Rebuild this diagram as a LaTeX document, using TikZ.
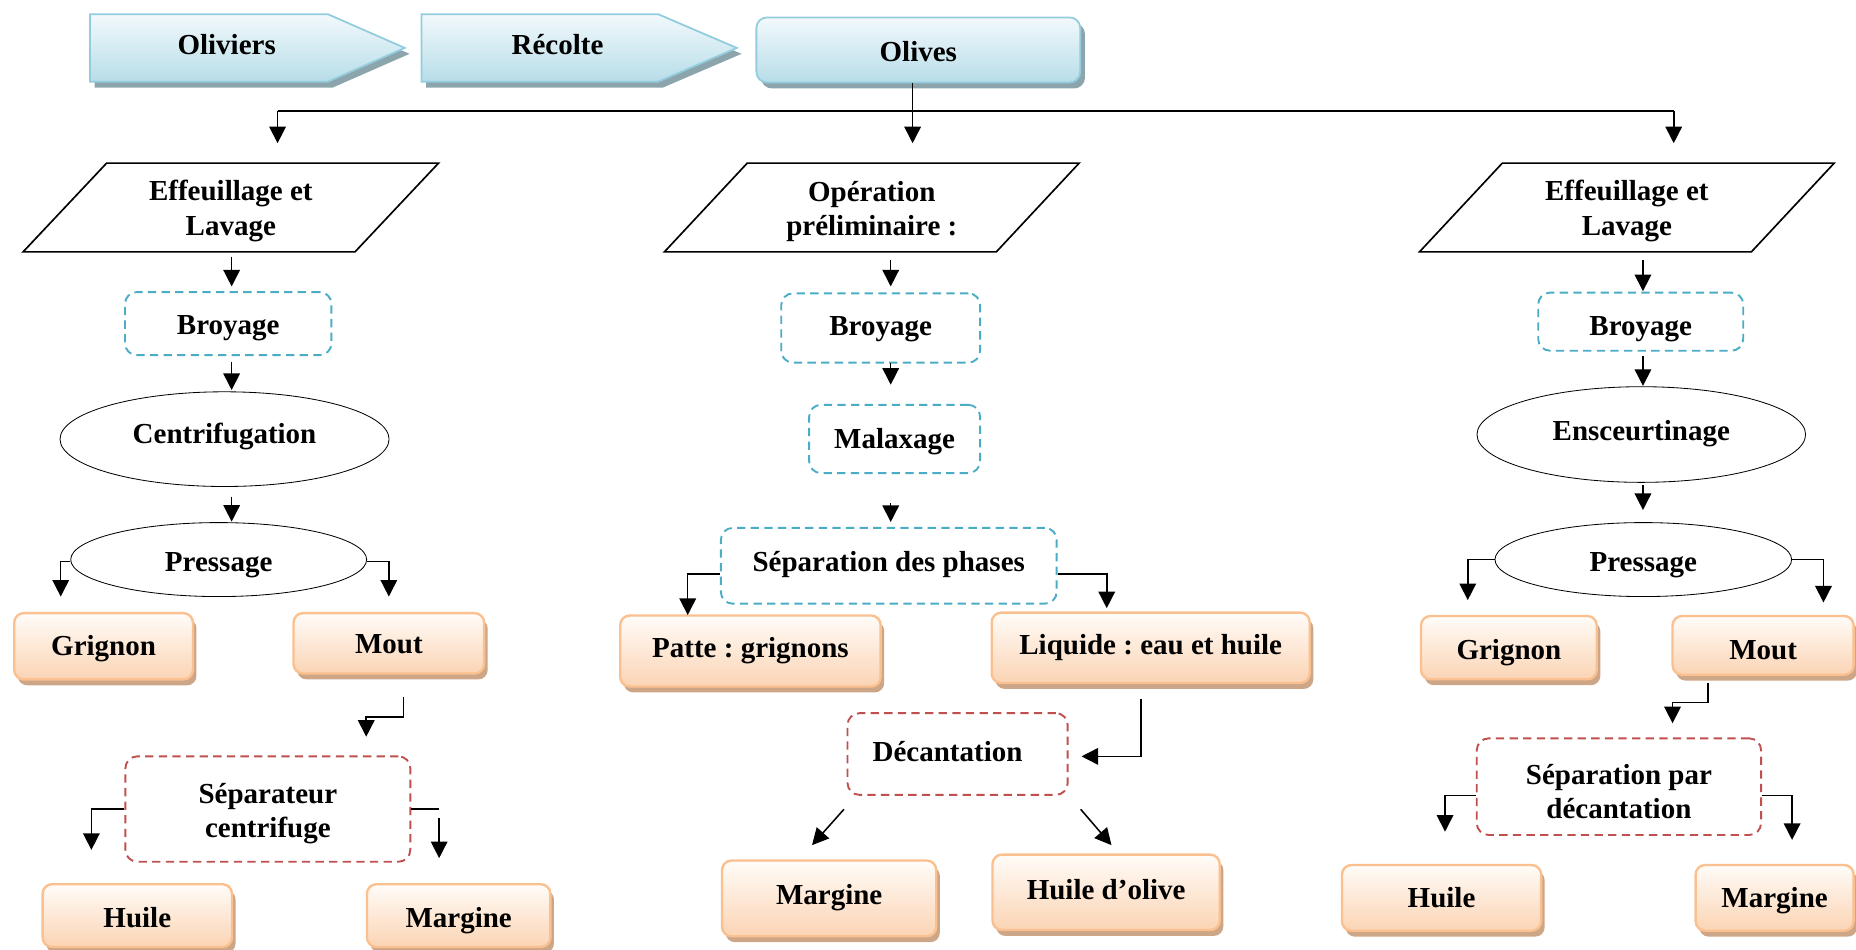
\documentclass[tikz,border=0pt]{standalone}
\usepackage{fontspec}
\setmainfont{Liberation Serif}
\usetikzlibrary{arrows.meta,shapes.geometric,shadows,calc}
\frenchspacing
\definecolor{bluebd}{RGB}{147,205,221}
\definecolor{bluetop}{RGB}{242,249,252}
\definecolor{bluebot}{RGB}{183,221,232}
\definecolor{blueshadow}{RGB}{140,165,172}
\definecolor{orbd}{RGB}{250,192,144}
\definecolor{ortop}{RGB}{255,252,248}
\definecolor{orbot}{RGB}{251,212,180}
\definecolor{orshadow}{RGB}{205,165,135}
\definecolor{dashblue}{RGB}{75,172,198}
\definecolor{dashred}{RGB}{192,80,77}
\tikzset{
 txt/.style={font=\fontsize{24.5}{29}\selectfont\bfseries, align=center, inner sep=0pt},
 obox/.style={txt, rounded corners=8pt, draw=orbd, line width=2pt, top color=ortop, bottom color=orbot,
   drop shadow={shadow xshift=3pt, shadow yshift=-5pt, fill=orshadow, opacity=1}},
 bdash/.style={txt, rounded corners=10pt, draw=dashblue, line width=1.6pt, dash pattern=on 7pt off 4.5pt},
 rdash/.style={bdash, draw=dashred},
 ell/.style={txt, ellipse, draw, line width=0.7pt},
 para/.style={draw, line width=1.4pt},
 conn/.style={line width=1.3pt},
 arr/.style={line width=1.3pt, -{Triangle[length=14pt,width=14pt]}},
 bshape/.style={top color=bluetop, bottom color=bluebot, draw=bluebd, line width=1.5pt,
   drop shadow={shadow xshift=4pt, shadow yshift=-5pt, fill=blueshadow, opacity=1}},
}
\newcommand{\rz}[2]{\raisebox{#1}[\height][\depth]{#2}}
\begin{document}
\begin{tikzpicture}[x=1pt,y=-1pt]
\useasboundingbox (0,0) rectangle (1568,802);

% ---------- top row ----------
\path[bshape] (76,12) -- (277,12) -- (342,40.5) -- (277,69) -- (76,69) -- cycle;
\node[txt] (ov) at (191.5,38) {Oliviers};
\path[bshape] (356,12) -- (556,12) -- (622.5,40.5) -- (556,69) -- (356,69) -- cycle;
\node[txt] (rc) at (471,38) {Récolte};
\node[bshape,txt,rounded corners=9pt,minimum width=273.6pt,minimum height=55pt] (ol) at (775.8,42.2) {\rz{-1pt}{Olives}};

\coordinate (hL) at (234.5,93.5);
\coordinate (hR) at (1414,93.5);
\coordinate (tL) at (234.5,121);
\coordinate (tM) at (771,121);
\coordinate (tR) at (1414,121);
\draw[conn,line width=1.8pt] (hL) -- (hR);
\draw[arr] (hL) -- (tL);
\draw[arr] (hR) -- (tR);
\draw[arr] (ol.south -| tM) -- (tM);

% ---------- left column ----------
\node[txt,minimum width=280pt,minimum height=74.6pt] (pa1) at (195,175.3) {};
\node[txt] (pa1t) at ($(pa1)+(0,3)$) {Effeuillage et\\Lavage};
\draw[para] ([xshift=35.3pt]pa1.north west) -- ([xshift=35.3pt]pa1.north east) -- ([xshift=-35.3pt]pa1.south east) -- ([xshift=-35.3pt]pa1.south west) -- cycle;
\node[bdash,minimum width=174.4pt,minimum height=53.3pt] (bL) at (192.8,273.4) {\rz{-4pt}{Broyage}};
\node[ell,minimum width=278pt,minimum height=80pt] (cL) at (189.7,371) {\rz{2pt}{Centrifugation}};
\node[ell,minimum width=250pt,minimum height=62.5pt] (pL) at (184.75,472.75) {\rz{-5pt}{Pressage}};
\node[obox,minimum width=151pt,minimum height=56pt] (gL) at (87.5,546) {\rz{-2pt}{Grignon}};
\node[obox,minimum width=161pt,minimum height=51pt] (mL) at (328.5,543.5) {\rz{-1pt}{Mout}};
\node[rdash,minimum width=240.7pt,minimum height=89pt] (sL) at (226.3,683.5) {};
\node[txt] (sLt) at ($(sL)+(0,4)$) {Séparateur\\centrifuge};
\node[obox,minimum width=160pt,minimum height=53pt] (hu1) at (116,773.5) {\rz{-2pt}{Huile}};
\node[obox,minimum width=155pt,minimum height=53pt] (mg1) at (387.5,773.5) {\rz{-4pt}{Margine}};

\coordinate (a1s) at (195.7,217);   \coordinate (a1e) at (195.7,242);
\coordinate (a2s) at (195.7,305.6); \coordinate (a2e) at (195.7,329.5);
\coordinate (a3s) at (195.7,419.6); \coordinate (a3e) at (195.7,440.7);
\draw[arr] (a1s) -- (a1e);
\draw[arr] (a2s) -- (a2e);
\draw[arr] (a3s) -- (a3e);
\coordinate (pLl) at (51.3,504);
\coordinate (pLr) at (328.5,504);
\draw[arr] ([yshift=-1.5pt]pL.west) -| (pLl);
\draw[arr] ([yshift=-1.5pt]pL.east) -| (pLr);
\coordinate (mL1) at (340.7,588.6);
\coordinate (mL2) at (309.4,605.8);
\coordinate (mL3) at (309.4,622.4);
\draw[arr] (mL1) |- (mL2) -- (mL3);
\coordinate (sLl) at (77.2,718);
\draw[arr] (sL.west) -| (sLl);
\coordinate (sLr1) at (371,683.5);
\coordinate (sLr2) at (371,691);
\coordinate (sLr3) at (371,725);
\draw[conn] (sL.east) -- (sLr1);
\draw[arr] (sLr2) -- (sLr3);

% ---------- centre column ----------
\node[txt,minimum width=280pt,minimum height=74.6pt] (pa2) at (736.5,175.3) {};
\node[txt] (pa2t) at ($(pa2)+(0,3.5)$) {Opération\\préliminaire :};
\draw[para] ([xshift=35pt]pa2.north west) -- ([xshift=35pt]pa2.north east) -- ([xshift=-35pt]pa2.south east) -- ([xshift=-35pt]pa2.south west) -- cycle;
\node[bdash,minimum width=168pt,minimum height=58.6pt] (bC) at (744,277.1) {\rz{-1pt}{Broyage}};
\node[bdash,minimum width=144.4pt,minimum height=57.7pt] (mx) at (755.8,370.85) {\rz{-2pt}{Malaxage}};
\node[bdash,minimum width=283.7pt,minimum height=64pt] (spC) at (750.85,478) {\rz{1pt}{Séparation des phases}};
\node[obox,minimum width=220pt,minimum height=60pt] (pt) at (634,550) {Patte : grignons};
\node[obox,minimum width=268.7pt,minimum height=59.4pt] (lq) at (972.15,547.3) {Liquide : eau et huile};
\node[rdash,minimum width=186pt,minimum height=69pt] (dc) at (809,637) {\rz{2pt}{Décantation}\hspace{17pt}};
\node[obox,minimum width=181pt,minimum height=64pt] (mgC) at (700.5,759) {\rz{1pt}{Margine}};
\node[obox,minimum width=192pt,minimum height=63.7pt] (ho) at (934.5,753.85) {\rz{2pt}{Huile d’olive}};

\coordinate (c1s) at (752.5,219.7); \coordinate (c1e) at (752.5,242);
\coordinate (c2s) at (752.5,307);   \coordinate (c2e) at (752.5,325);
\coordinate (c3s) at (752.5,425);   \coordinate (c3e) at (752.5,441);
\draw[arr] (c1s) -- (c1e);
\draw[arr] (c2s) -- (c2e);
\draw[arr] (c3s) -- (c3e);
\coordinate (spl) at (581,519.6);
\coordinate (spr) at (935,513.8);
\draw[arr] ([yshift=-7pt]spC.west) -| (spl);
\draw[arr] ([yshift=-7pt]spC.east) -| (spr);
\coordinate (lq1) at (964,590.6);
\coordinate (dcE) at (913.7,639);
\draw[arr] (lq1) |- (dcE);
\coordinate (d1s) at (713,683.7); \coordinate (d1e) at (686,714);
\coordinate (d2s) at (913,683.7); \coordinate (d2e) at (939,714);
\draw[arr] (d1s) -- (d1e);
\draw[arr] (d2s) -- (d2e);

% ---------- right column ----------
\node[txt,minimum width=280pt,minimum height=74.6pt] (pa3) at (1374.4,175.3) {};
\node[txt] (pa3t) at ($(pa3)+(0,3)$) {Effeuillage et\\Lavage};
\draw[para] ([xshift=35pt]pa3.north west) -- ([xshift=35pt]pa3.north east) -- ([xshift=-35pt]pa3.south east) -- ([xshift=-35pt]pa3.south west) -- cycle;
\node[bdash,minimum width=173.2pt,minimum height=49.1pt] (bR) at (1386.1,271.75) {\rz{-6pt}{Broyage}};
\node[ell,minimum width=277.6pt,minimum height=80.8pt] (eR) at (1386.6,367.1) {\rz{1pt}{Ensceurtinage}};
\node[ell,minimum width=250.6pt,minimum height=62.5pt] (pR) at (1388.3,472.75) {\rz{-5pt}{Pressage}};
\node[obox,minimum width=148.5pt,minimum height=53.5pt] (gR) at (1274.75,547.15) {\rz{-4pt}{Grignon}};
\node[obox,minimum width=153pt,minimum height=49.6pt] (mR) at (1489.5,545.2) {\rz{-4pt}{Mout}};
\node[rdash,minimum width=240.2pt,minimum height=81.6pt] (sdR) at (1367.7,664.6) {};
\node[txt] (sdRt) at ($(sdR)+(0,4)$) {Séparation par\\décantation};
\node[obox,minimum width=168.3pt,minimum height=55.5pt] (huR) at (1217.85,758.55) {Huile};
\node[obox,minimum width=133.5pt,minimum height=55.5pt] (mgR) at (1499.25,758.55) {\rz{-2pt}{Margine}};

\coordinate (r1s) at (1388,220);   \coordinate (r1e) at (1388,246);
\coordinate (r2s) at (1388,300.8); \coordinate (r2e) at (1388,326);
\coordinate (r3s) at (1388,409.7); \coordinate (r3e) at (1388,430.9);
\draw[arr] (r1s) -- (r1e);
\draw[arr] (r2s) -- (r2e);
\draw[arr] (r3s) -- (r3e);
\coordinate (pRl) at (1240,507);
\coordinate (pRr) at (1540.5,509);
\draw[arr] (pR.west) -| (pRl);
\draw[arr] (pR.east) -| (pRr);
\coordinate (mR1) at (1443,576.7);
\coordinate (mR2) at (1413,593.6);
\coordinate (mR3) at (1413,611);
\draw[arr] (mR1) |- (mR2) -- (mR3);
\coordinate (sdl) at (1220.8,702.6);
\coordinate (sdr) at (1514,709.6);
\draw[arr] ([yshift=-7.4pt]sdR.west) -| (sdl);
\draw[arr] ([yshift=-7.4pt]sdR.east) -| (sdr);
\end{tikzpicture}
\end{document}
